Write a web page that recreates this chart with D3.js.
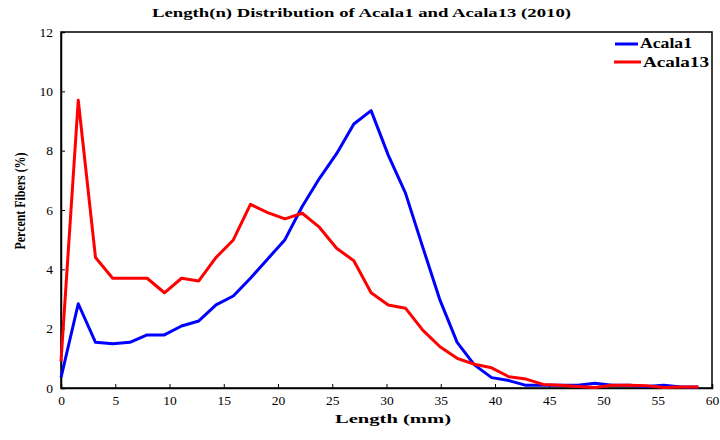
<!DOCTYPE html>
<html>
<head>
<meta charset="utf-8">
<script src="https://cdn.jsdelivr.net/npm/d3@7"></script>
<style>
  html, body { margin: 0; padding: 0; background: #fff; }
  svg { display: block; }
</style>
</head>
<body>
<svg id="chart" width="720" height="440"></svg>
<script>
// Fiber length classes (mm), 1/16-inch steps
const lengths = [0, 1.59, 3.18, 4.76, 6.35, 7.94, 9.53, 11.11, 12.7, 14.29, 15.88, 17.46,
  19.05, 20.64, 22.23, 23.81, 25.4, 26.99, 28.58, 30.16, 31.75, 33.34, 34.93, 36.51,
  38.1, 39.69, 41.28, 42.86, 44.45, 46.04, 47.63, 49.21, 50.8, 52.39, 53.98, 55.56, 57.15, 58.74];

// Percent fibers per length class
const acala1 = [0.35, 2.84, 1.54, 1.49, 1.54, 1.79, 1.79, 2.09, 2.26, 2.8, 3.1, 3.7,
  4.35, 5.0, 6.12, 7.06, 7.9, 8.9, 9.35, 7.85, 6.57, 4.75, 2.96, 1.54,
  0.78, 0.35, 0.25, 0.09, 0.09, 0.09, 0.09, 0.16, 0.09, 0.09, 0.05, 0.09, 0.03, 0.03];
const acala13 = [0.9, 9.7, 4.4, 3.7, 3.7, 3.7, 3.21, 3.7, 3.61, 4.4, 4.99, 6.19,
  5.91, 5.7, 5.89, 5.42, 4.71, 4.29, 3.21, 2.8, 2.69, 1.95, 1.39, 1.0,
  0.8, 0.68, 0.38, 0.3, 0.12, 0.09, 0.05, 0.02, 0.09, 0.09, 0.08, 0.02, 0.03, 0.03];

const seriesNames = ["Acala1", "Acala13"];
const seriesColors = ["#0000ff", "#ff0000"];
const xTicks = [0, 5, 10, 15, 20, 25, 30, 35, 40, 45, 50, 55, 60];
const yTicks = [0, 2, 4, 6, 8, 10, 12];

const FONT = "Liberation Serif";
const svg = d3.select("#chart");
const m = { left: 61, right: 712, top: 32, bottom: 388 };

const x = d3.scaleLinear().domain([0, 60]).range([m.left, m.right]);
const y = d3.scaleLinear().domain([0, 12]).range([m.bottom, m.top]);

// Frame
svg.append("rect")
  .attr("x", m.left).attr("y", m.top)
  .attr("width", m.right - m.left).attr("height", m.bottom - m.top)
  .attr("fill", "none").attr("stroke", "#000").attr("stroke-width", 1.5);

// Axes with inward ticks
const xAxis = svg.append("g")
  .attr("transform", `translate(0,${m.bottom})`)
  .call(d3.axisBottom(x).tickValues(xTicks).tickSize(-4).tickPadding(7));
const yAxis = svg.append("g")
  .attr("transform", `translate(${m.left},0)`)
  .call(d3.axisLeft(y).tickValues(yTicks).tickSize(-4).tickPadding(8));

[xAxis, yAxis].forEach(g => {
  g.attr("font-family", FONT).attr("font-size", 13.5);
  g.select(".domain").attr("stroke", "#000").attr("stroke-width", 1.5);
  g.selectAll(".tick line").attr("stroke", "#000").attr("stroke-width", 1);
  g.selectAll(".tick text").attr("fill", "#000").attr("font-family", FONT);
});

// Lines
const line = d3.line()
  .x((d, i) => x(lengths[i]))
  .y(d => y(d));

[acala1, acala13].forEach((vals, k) => {
  svg.append("path")
    .datum(vals)
    .attr("d", line)
    .attr("fill", "none")
    .attr("stroke", seriesColors[k])
    .attr("stroke-width", 3)
    .attr("stroke-linejoin", "round");
});

function label(tx, ty, txt, size, len, rotate) {
  const t = svg.append("text")
    .attr("font-family", FONT)
    .attr("font-weight", "bold")
    .attr("font-size", size)
    .attr("fill", "#000")
    .attr("textLength", len)
    .attr("lengthAdjust", "spacingAndGlyphs")
    .text(txt);
  if (rotate) {
    t.attr("transform", `translate(${tx},${ty}) rotate(-90)`)
     .attr("x", -len / 2).attr("y", 0);
  } else {
    t.attr("x", tx).attr("y", ty);
  }
  return t;
}

// Title and axis titles
label(152, 17, "Length(n) Distribution of Acala1 and Acala13 (2010)", 13, 419);
label(335, 423, "Length (mm)", 13, 116);
label(25, 201, "Percent Fibers (%)", 14.5, 97, true);

// Legend
const legend = [
  { x1: 615, x2: 638, y: 44, tx: 640, ty: 48, len: 52 },
  { x1: 614, x2: 641, y: 62, tx: 643, ty: 67, len: 66 }
];
legend.forEach((l, k) => {
  svg.append("line")
    .attr("x1", l.x1).attr("x2", l.x2)
    .attr("y1", l.y).attr("y2", l.y)
    .attr("stroke", seriesColors[k]).attr("stroke-width", 3);
  label(l.tx, l.ty, seriesNames[k], 14, l.len);
});
</script>
</body>
</html>
